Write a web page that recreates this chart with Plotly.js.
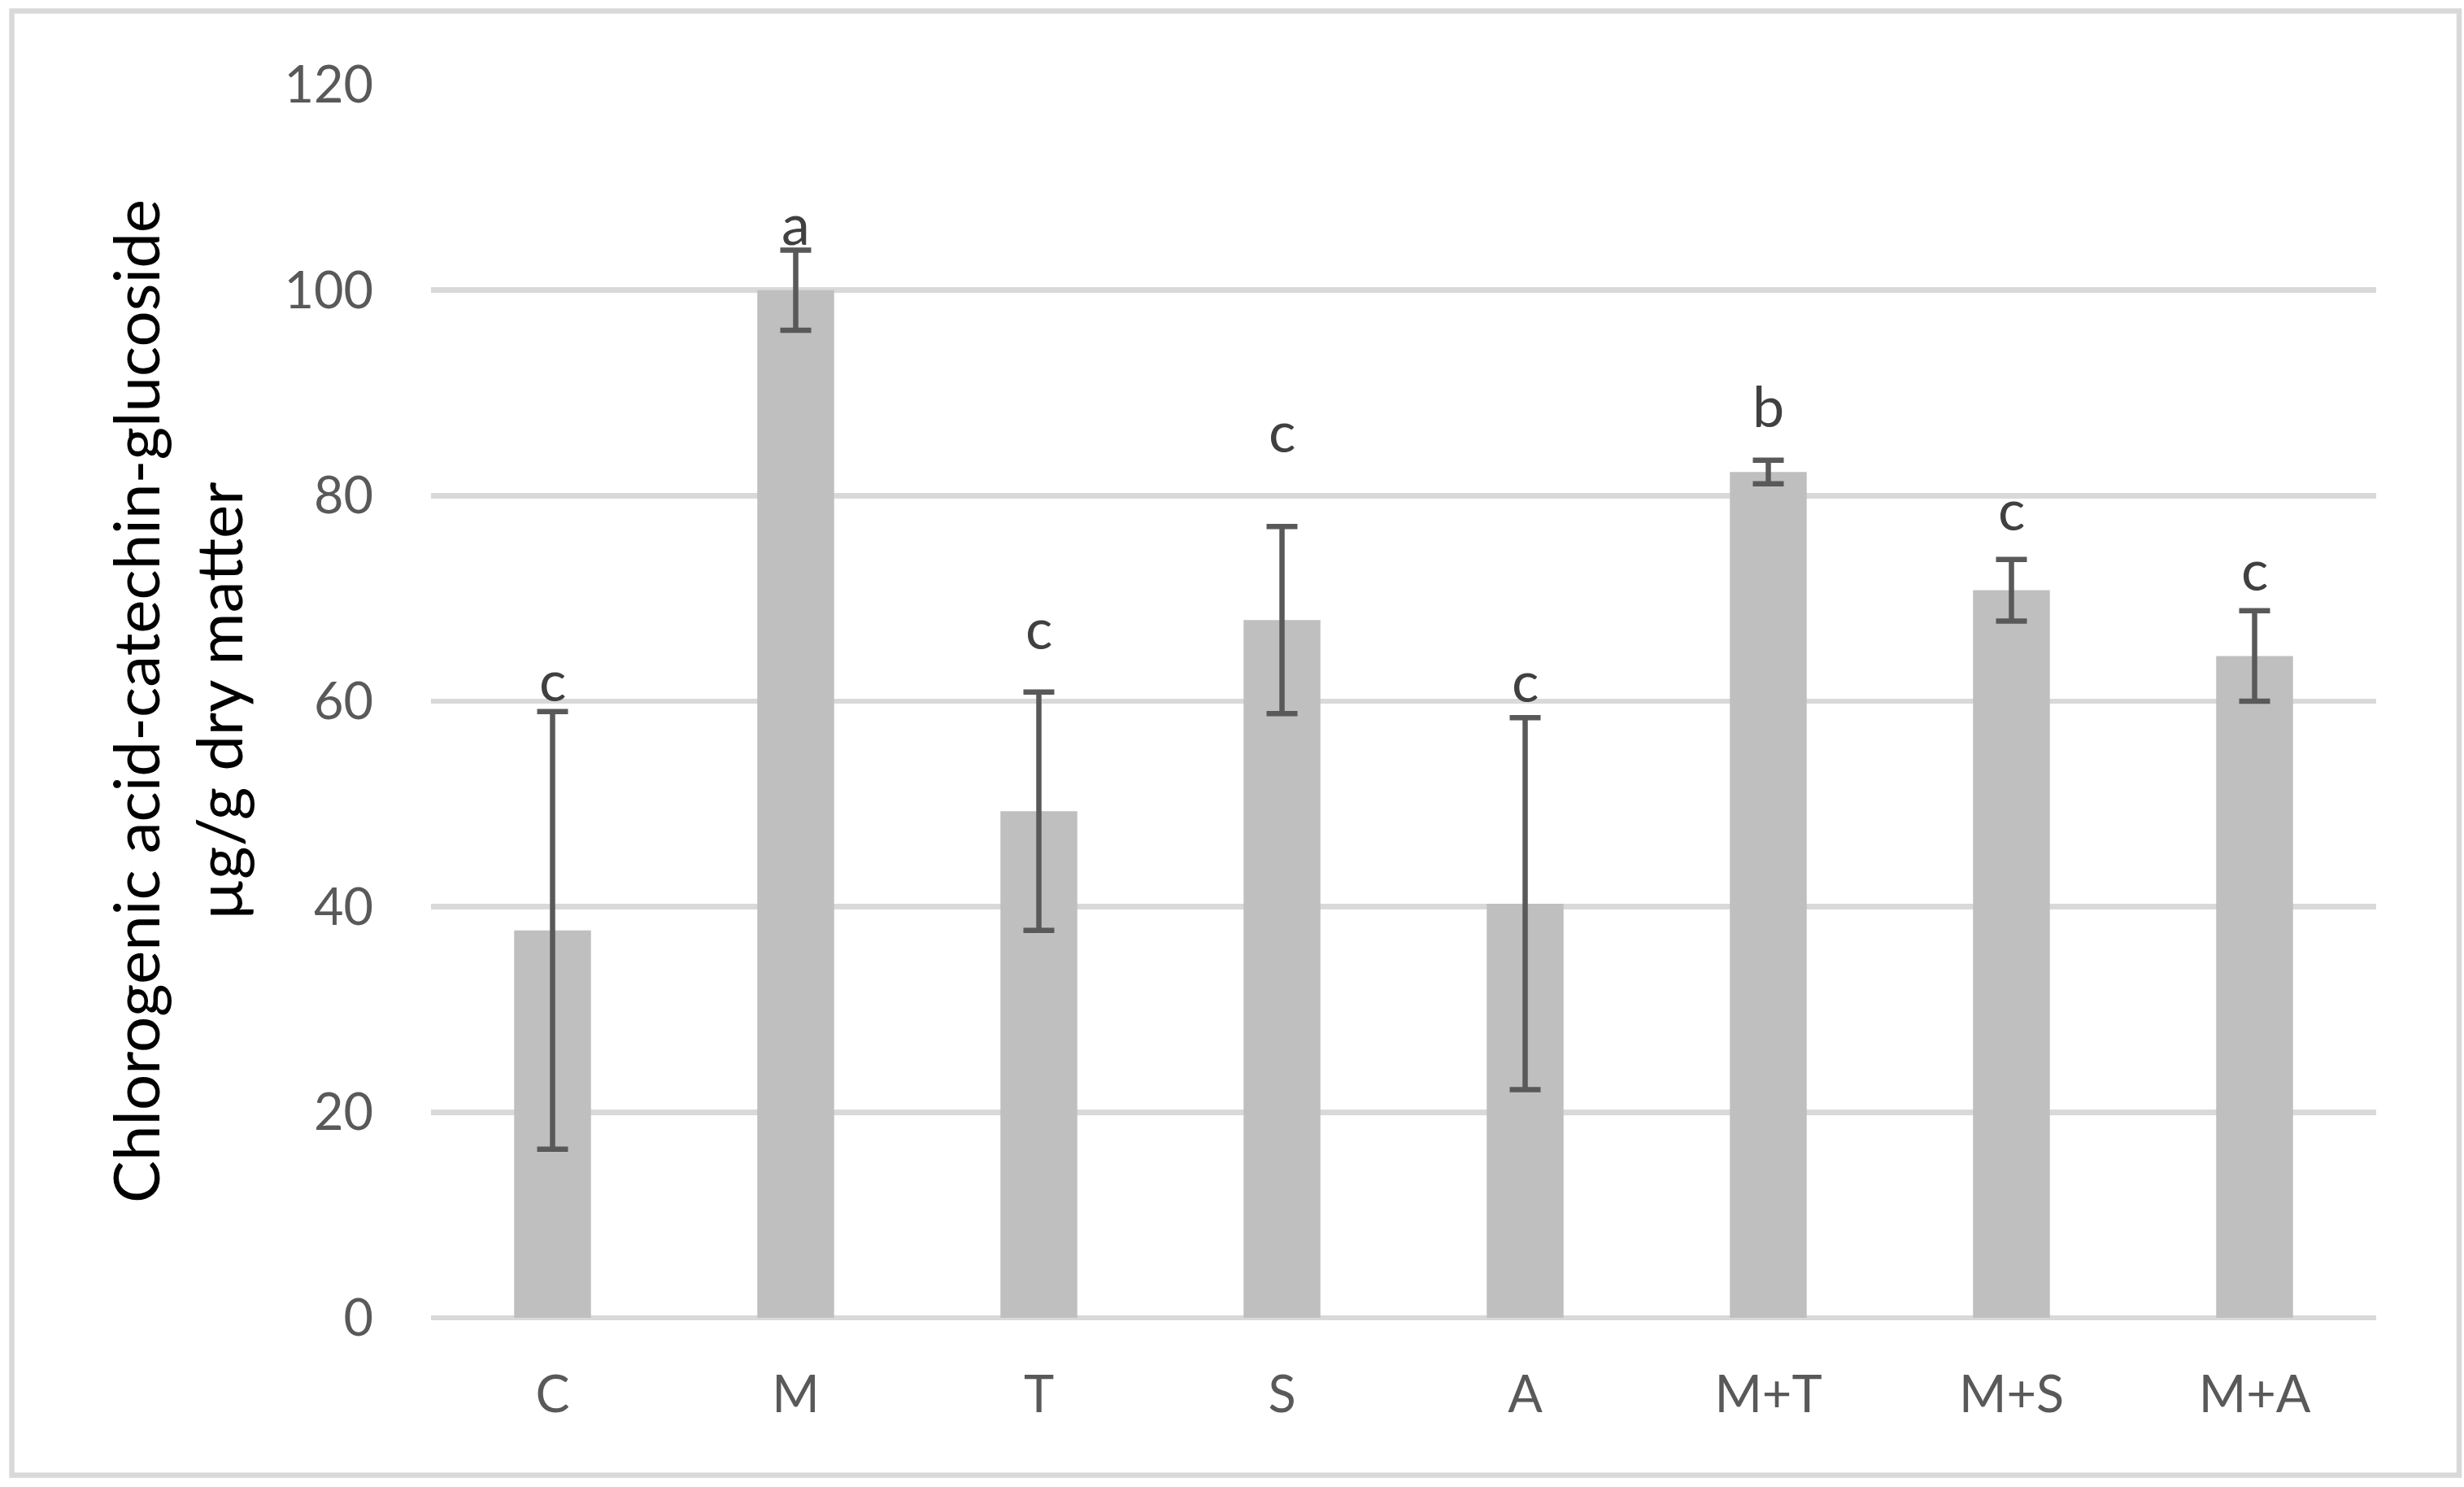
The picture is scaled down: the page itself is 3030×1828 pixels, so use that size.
<!DOCTYPE html>
<html>
<head>
<meta charset="utf-8">
<script src="https://cdn.plot.ly/plotly-3.0.1.min.js"></script>
<style>
  html, body { margin: 0; padding: 0; background: #ffffff; }
  #chart { width: 3030px; height: 1828px; }
</style>
</head>
<body>
<div id="chart"></div>
<script>
// ---- data ----
const categories = ['C', 'M', 'T', 'S', 'A', 'M+T', 'M+S', 'M+A'];
const means      = [37.7, 100.0, 49.3, 67.9, 40.3, 82.3, 70.8, 64.4];
const errors     = [21.3, 3.9, 11.6, 9.1, 18.1, 1.15, 3.0, 4.4];
const letters    = ['c', 'a', 'c', 'c', 'c', 'b', 'c', 'c'];
const letterY    = [60.0, 104.4, 65.1, 84.2, 59.9, 86.7, 76.6, 70.8];
const yTicks     = [0, 20, 40, 60, 80, 100, 120];
const yTitleLine1 = 'Chlorogenic acid-catechin-glucoside';
const yTitleLine2 = 'µg/g dry matter';

const FONT = 'Lato, "Open Sans", sans-serif';

const trace = {
  type: 'bar',
  x: categories,
  y: means,
  marker: { color: '#bfbfbf', line: { width: 0 } },
  error_y: {
    type: 'data',
    array: errors,
    visible: true,
    color: '#595959',
    thickness: 6.5,
    width: 19
  },
  hoverinfo: 'x+y'
};

const annotations = categories.map((c, i) => ({
  x: c,
  y: letterY[i],
  xref: 'x',
  yref: 'y',
  text: letters[i],
  showarrow: false,
  xanchor: 'center',
  yanchor: 'bottom',
  yshift: -17,
  font: { family: FONT, size: 70, color: '#404040' }
}));

const layout = {
  width: 3030,
  height: 1828,
  margin: { l: 530, r: 108, t: 104, b: 208, pad: 0 },
  paper_bgcolor: '#ffffff',
  plot_bgcolor: '#ffffff',
  showlegend: false,
  bargap: 0.684,
  font: { family: FONT, color: '#595959' },
  xaxis: {
    type: 'category',
    range: [-0.5, categories.length - 0.5],
    showgrid: false,
    showline: false,
    zeroline: false,
    ticks: '',
    ticklabelstandoff: 52,
    tickfont: { family: FONT, size: 63, color: '#595959' },
    fixedrange: true
  },
  yaxis: {
    range: [0, 120],
    tickmode: 'array',
    tickvals: yTicks,
    ticktext: yTicks.map(String),
    showgrid: true,
    gridcolor: '#d9d9d9',
    gridwidth: 6.5,
    zeroline: true,
    zerolinecolor: '#d9d9d9',
    zerolinewidth: 6.5,
    showline: false,
    ticks: '',
    ticklabelstandoff: 70,
    tickfont: { family: FONT, size: 63, color: '#595959' },
    title: {
      text: yTitleLine1 + '<br>' + yTitleLine2,
      font: { family: FONT, size: 78, color: '#000000' },
      standoff: 25
    },
    fixedrange: true
  },
  annotations: annotations,
  shapes: [{
    type: 'rect',
    xref: 'paper', yref: 'paper',
    x0: (14.5 - 530) / 2392, x1: (3024 - 530) / 2392,
    y0: (1620 - 1813.5) / 1516, y1: (1620 - 13.5) / 1516,
    line: { color: '#d9d9d9', width: 6.5 },
    fillcolor: 'rgba(0,0,0,0)',
    layer: 'below'
  }]
};

Plotly.newPlot('chart', [trace], layout, { displayModeBar: false, staticPlot: true });
</script>
</body>
</html>
